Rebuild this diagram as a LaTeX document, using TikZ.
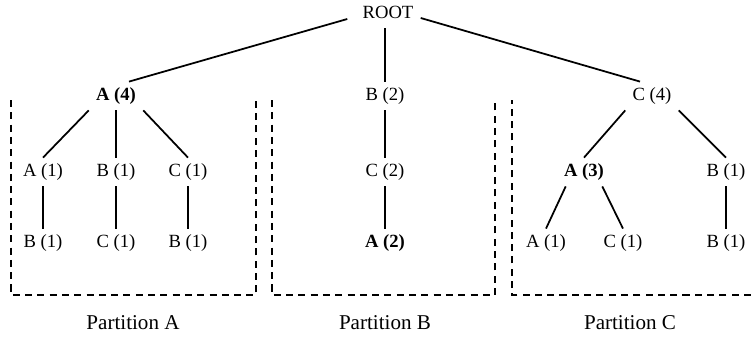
\documentclass[tikz,border=0pt]{standalone}
\usepackage{fontspec}
\setmainfont{Liberation Serif}
\tikzset{
  treenode/.style={inner xsep=4pt, inner ysep=3pt, text height=7.6pt, text depth=2.4pt, font=\fontsize{10.6}{12}\selectfont},
  branch/.style={line width=1pt},
  partline/.style={line width=0.8pt, dash pattern=on 4pt off 3pt},
  partlabel/.style={font=\fontsize{12}{14}\selectfont}
}

\begin{document}
\begin{tikzpicture}[x=0.02cm, y=-0.02cm]
  \useasboundingbox (0,0) rectangle (751,336);

  % Root and first level
  \node[treenode] (root) at (388,14) {ROOT};
  \node[treenode] (a4) at (116,96) {\textbf{A (4)}};
  \node[treenode] (b2) at (385,96) {B (2)};
  \node[treenode] (c4) at (652,96) {C (4)};

  \draw[branch] ([xshift=-0.16cm,yshift=-0.1cm]root.west) -- ([xshift=0.26cm]a4.north);
  \draw[branch] (b2.north |- root.south) -- (b2.north);
  \draw[branch] ([yshift=-0.08cm]root.east) -- ([xshift=-0.24cm]c4.north);

  % Partition A
  \node[treenode] (pa1) at (43,172) {A (1)};
  \node[treenode] (pa2) at (116,172) {B (1)};
  \node[treenode] (pa3) at (188,172) {C (1)};
  \node[treenode] (pa4) at (43,243) {B (1)};
  \node[treenode] (pa5) at (116,243) {C (1)};
  \node[treenode] (pa6) at (188,243) {B (1)};

  \draw[branch] (a4.south west) -- (pa1.north);
  \draw[branch] (a4.south) -- (pa2.north);
  \draw[branch] (a4.south east) -- (pa3.north);
  \draw[branch] (pa1) -- (pa4);
  \draw[branch] (pa2) -- (pa5);
  \draw[branch] (pa3) -- (pa6);

  % Partition B
  \node[treenode] (pb1) at (385,172) {C (2)};
  \node[treenode] (pb2) at (385,243) {\textbf{A (2)}};

  \draw[branch] (b2) -- (pb1);
  \draw[branch] (pb1) -- (pb2);

  % Partition C
  \node[treenode] (pc1) at (584,172) {\textbf{A (3)}};
  \node[treenode] (pc2) at (726,172) {B (1)};
  \node[treenode] (pc3) at (546,243) {A (1)};
  \node[treenode] (pc4) at (623,243) {C (1)};
  \node[treenode] (pc5) at (726,243) {B (1)};

  \draw[branch] (c4.south west) -- (pc1.north);
  \draw[branch] (c4.south east) -- (pc2.north);
  \draw[branch] ([xshift=0.18cm]pc1.south west) -- (pc3.north);
  \draw[branch] ([xshift=-0.18cm]pc1.south east) -- (pc4.north);
  \draw[branch] (pc2) -- (pc5);

  % Partition frames
  \draw[partline] (11,100) -- (11,295) -- (256,295) -- (256,100);
  \draw[partline] (272,100) -- (272,295) -- (495,295) -- (495,100);
  \draw[partline] (751,295) -- (512,295) -- (512,100);

  \node[partlabel] (labA) at (133,323) {Partition A};
  \node[partlabel] (labB) at (385,323) {Partition B};
  \node[partlabel] (labC) at (630,323) {Partition C};
\end{tikzpicture}
\end{document}
